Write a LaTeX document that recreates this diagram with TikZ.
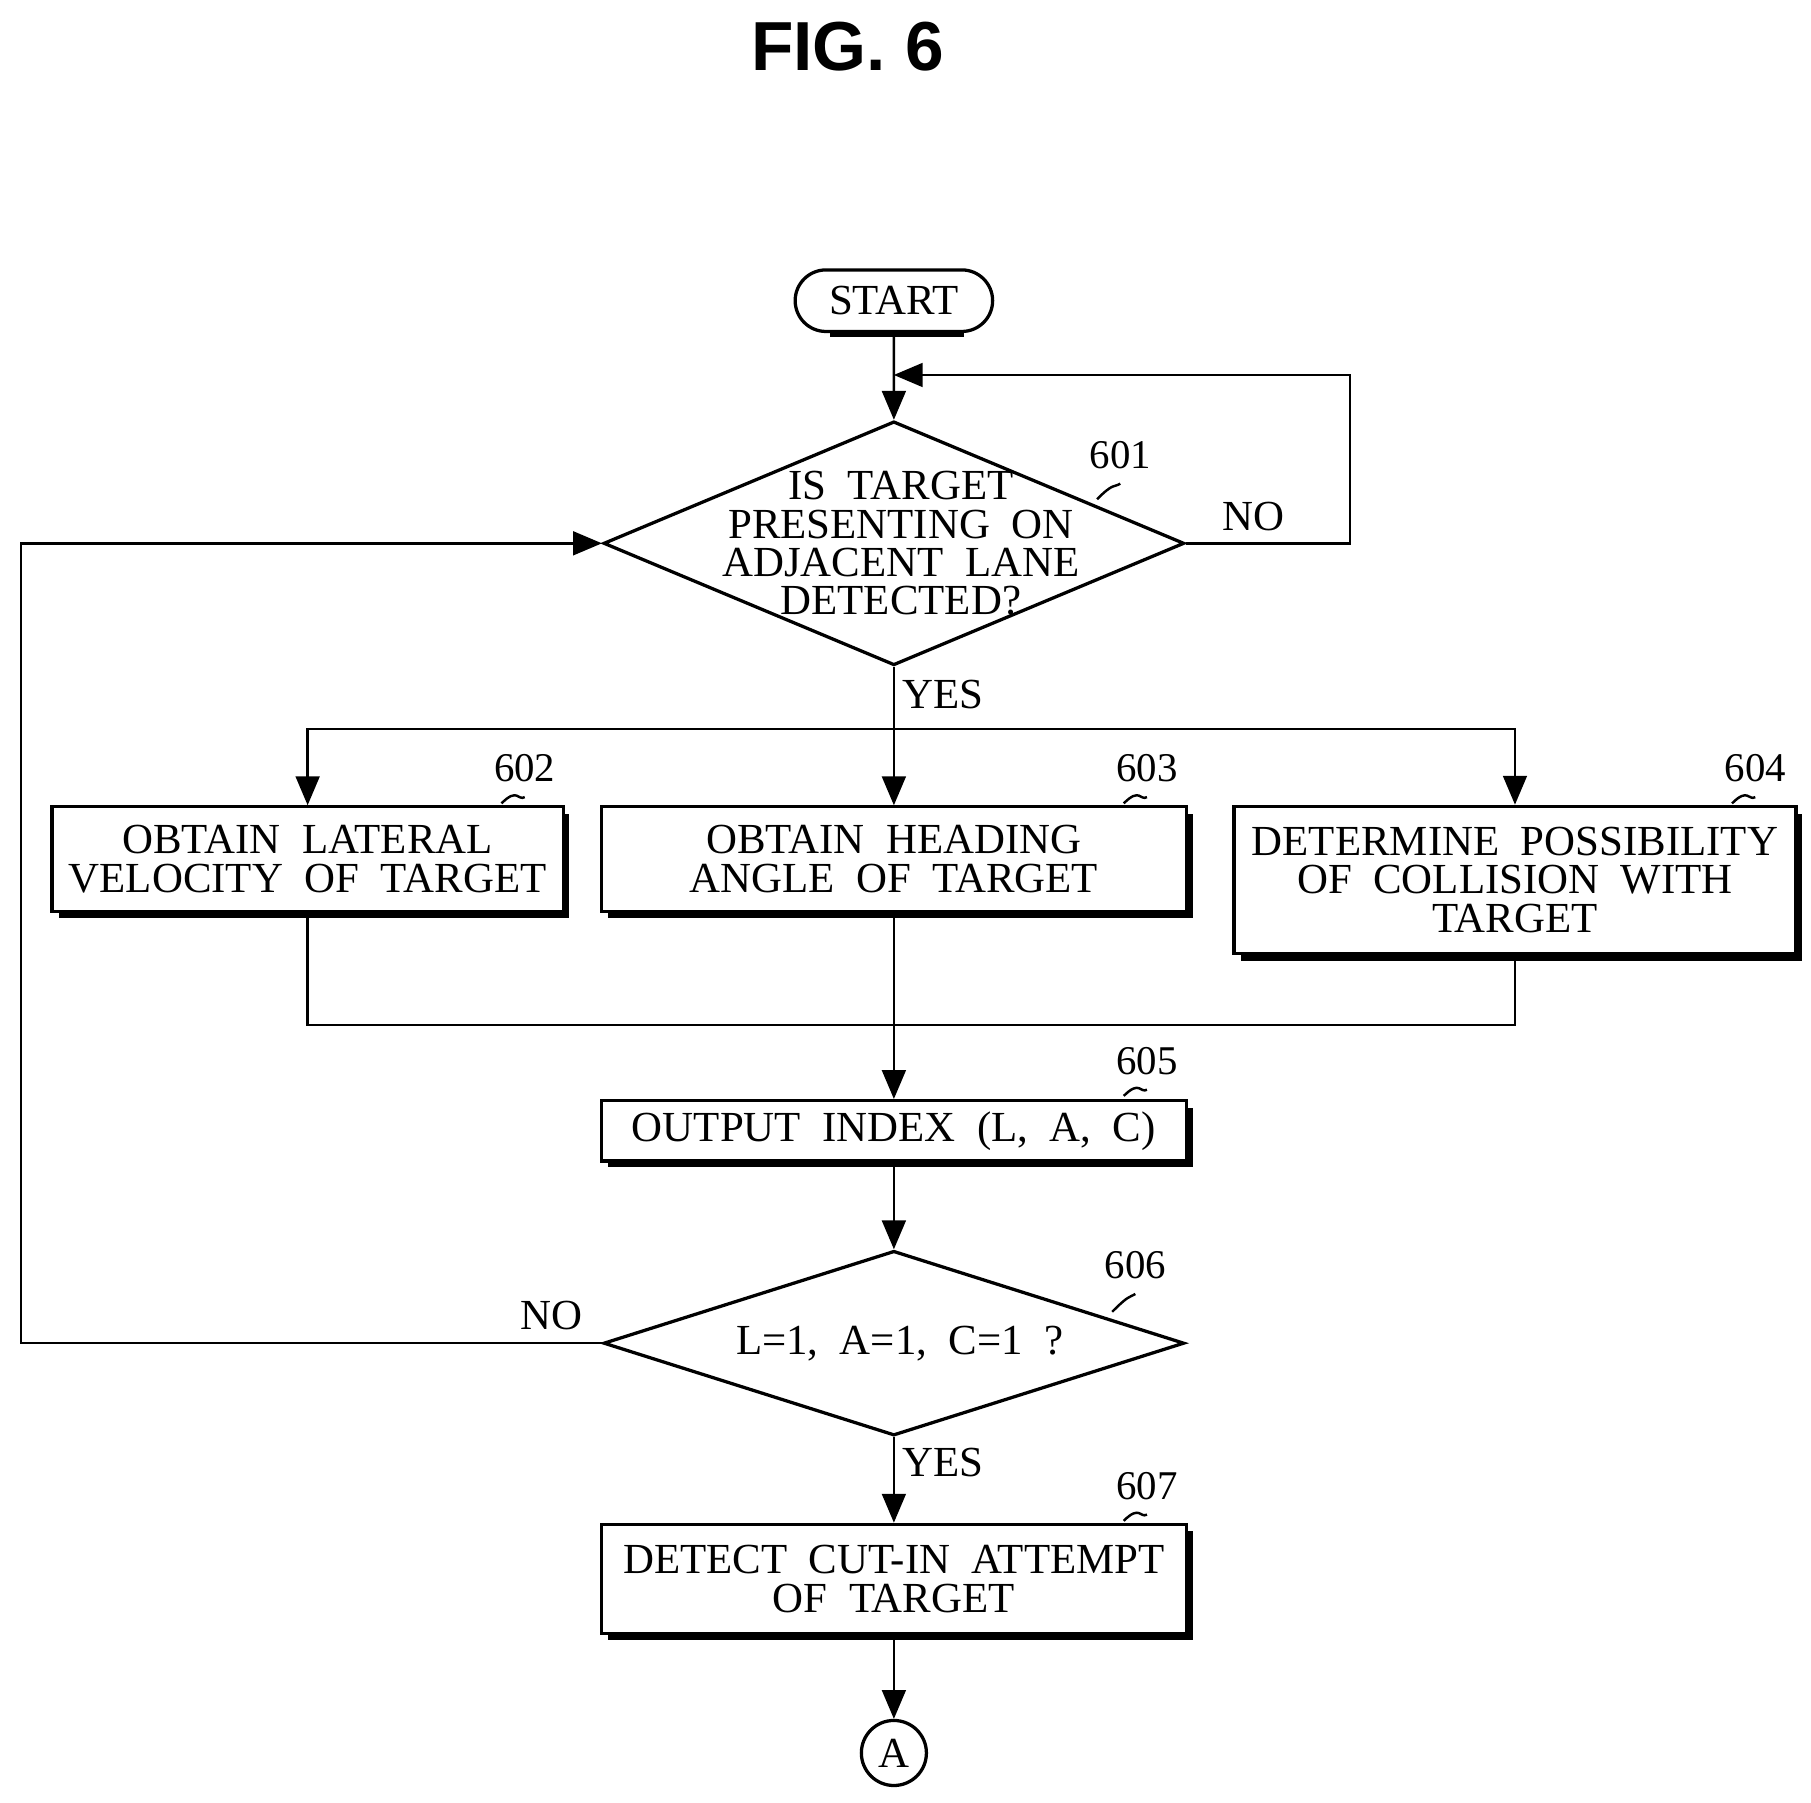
\documentclass[tikz,border=0pt]{standalone}
\usepackage{fontspec}
\setmainfont{Liberation Serif}
\setsansfont{Liberation Sans}
\usetikzlibrary{arrows}
\usetikzlibrary{positioning}
\usetikzlibrary{shapes}
\begin{document}
\begin{tikzpicture}[
      x=0.01cm, y=-0.01cm,
      every node/.style={font=\fontsize{10.5}{9.4}\selectfont, align=center},
      plain/.style={rectangle, draw, thick, fill=white, inner sep=0pt},
      decision/.style={diamond, draw, thick, inner sep=0pt},
      terminal/.style={rounded rectangle, draw, thick, fill=white, inner sep=0pt},
      ref/.style={font=\fontsize{10}{10}\selectfont},
      ->, >=triangle 45, semithick
    ]
      \useasboundingbox (0,0) rectangle (1560,1553);
      \node [font=\sffamily\bfseries\fontsize{17}{17}\selectfont] (title) at (730,40) {FIG. 6};

      % shadows of the boxes
      \foreach \a/\b/\c/\d in {45/695/485/785, 518/695/1022/785, 1063/695/1547/822,
                               518/948/1022/1000, 518/1313/1022/1407}
        \draw [-, line width=2pt] (\a+6,\d+2) -- (\c+2,\d+2) -- (\c+2,\b+6);
      \draw [-, line width=2pt] (715,287) -- (830,287);

      \node [terminal, minimum width=1.7cm, minimum height=0.53cm] (start) at (770,259) {START};
      \node [decision, minimum width=5cm, minimum height=2.1cm] (detect) at (770,468) {};
      \node (detectText) at (776,468) {IS\ \ TARGET\\PRESENTING\ \ ON\\ADJACENT\ \ LANE\\DETECTED?};
      \node [plain, minimum width=4.4cm, minimum height=0.9cm] (lateral) at (265,740)
            {OBTAIN\ \ LATERAL\\VELOCITY\ \ OF\ \ TARGET};
      \node [plain, minimum width=5.04cm, minimum height=0.9cm] (heading) at (770,740)
            {OBTAIN\ \ HEADING\\ANGLE\ \ OF\ \ TARGET};
      \node [plain, minimum width=4.84cm, minimum height=1.27cm] (collision) at (1305,758)
            {DETERMINE\ \ POSSIBILITY\\OF\ \ COLLISION\ \ WITH\\TARGET};
      \node [plain, minimum width=5.04cm, minimum height=0.52cm] (index) at (770,974)
            {OUTPUT\ \ INDEX\ \ (L,\ \ A,\ \ C)};
      \node [decision, minimum width=5cm, minimum height=1.59cm] (check) at (770,1157) {};
      \node (checkText) at (775,1157) {L=1,\ \ A=1,\ \ C=1\ \ ?};
      \node [plain, minimum width=5.04cm, minimum height=0.94cm] (cutin) at (770,1360)
            {DETECT\ \ CUT-IN\ \ ATTEMPT\\OF\ \ TARGET};
      \node [circle, draw, thick, minimum size=0.56cm, inner sep=0pt] (connA) at (770,1510) {A};

      \coordinate (loopTop) at (770,323);
      \coordinate (splitMid) at (770,628);
      \coordinate (mergeMid) at (770,883);

      \draw (start) -- (detect.north);
      \draw (detect.east) -- (1163,468) |- (loopTop);
      \draw (detect.south) -- (heading.north);
      \draw (splitMid) -| (lateral.north);
      \draw (splitMid) -| (collision.north);
      \draw [-] (lateral.south) |- (mergeMid);
      \draw [-] (collision.south) |- (mergeMid);
      \draw (heading.south) -- (index.north);
      \draw (index.south) -- (check.north);
      \draw (check.west) -- (18,1157) |- (detect.west);
      \draw (check.south) -- (cutin.north);
      \draw (cutin.south) -- (connA.north);

      \node (no1) at (1080,445) {NO};
      \node (yes1) at (812,598) {YES};
      \node (no2) at (475,1133) {NO};
      \node (yes2) at (812,1260) {YES};

      % reference numerals
      \foreach \name/\lx/\ly/\ex/\ey in {601/965/392/945/430, 602/452/662/432/692, 603/988/662/968/692,
                                         604/1512/662/1492/692, 605/988/914/968/944,
                                         606/978/1090/958/1130, 607/988/1280/968/1310}{
        \node [ref] (n\name) at (\lx,\ly) {\name};
        \draw [-, semithick] (n\name.south) .. controls (\lx-6,\ly+28) and (\ex+14,\ey-14) .. (\ex,\ey);
      }
    \end{tikzpicture}
\end{document}
